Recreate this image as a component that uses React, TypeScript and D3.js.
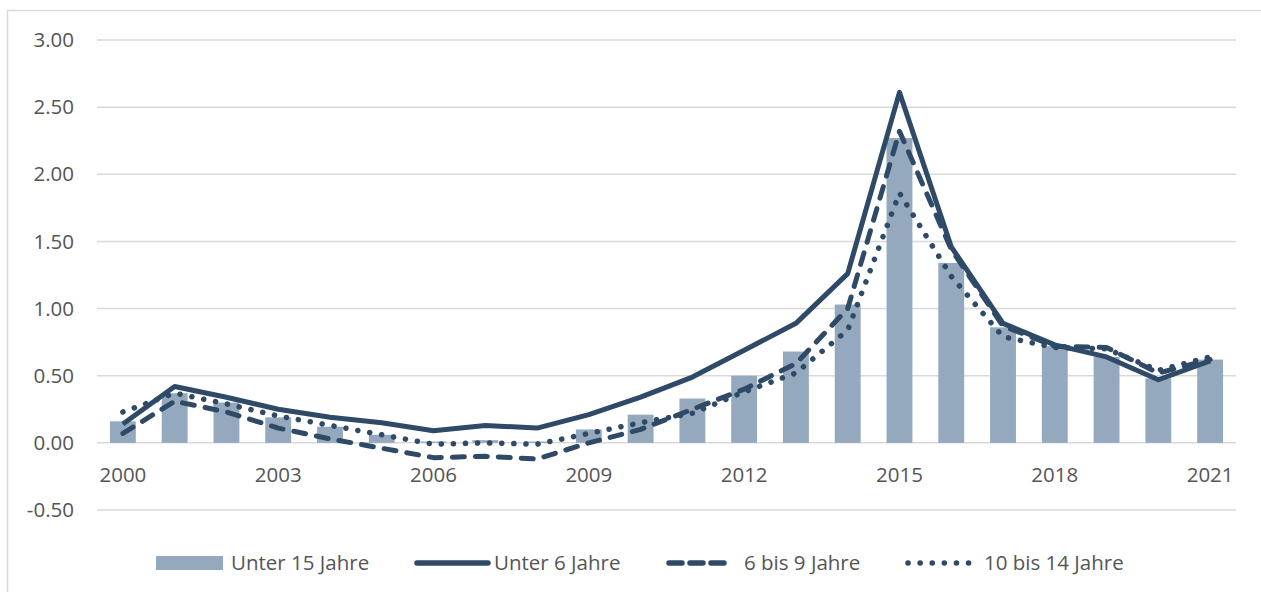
import React, { useRef, useEffect } from 'react'
import * as d3 from 'd3'

const years = ['2000', '2001', '2002', '2003', '2004', '2005', '2006', '2007', '2008', '2009', '2010',
  '2011', '2012', '2013', '2014', '2015', '2016', '2017', '2018', '2019', '2020', '2021']
const under15 = [0.16, 0.37, 0.30, 0.19, 0.12, 0.06, 0.01, 0.02, 0.01, 0.10, 0.21, 0.33, 0.50, 0.68, 1.03, 2.27, 1.34, 0.86, 0.72, 0.64, 0.48, 0.62]
const under6 = [0.14, 0.42, 0.34, 0.25, 0.19, 0.15, 0.09, 0.13, 0.11, 0.21, 0.34, 0.49, 0.69, 0.89, 1.26, 2.61, 1.46, 0.89, 0.73, 0.64, 0.47, 0.61]
const age6to9 = [0.07, 0.31, 0.23, 0.11, 0.03, -0.04, -0.11, -0.10, -0.12, 0.00, 0.10, 0.25, 0.40, 0.59, 1.00, 2.32, 1.44, 0.87, 0.72, 0.71, 0.52, 0.62]
const age10to14 = [0.23, 0.37, 0.29, 0.20, 0.13, 0.06, -0.01, 0.00, -0.01, 0.07, 0.15, 0.22, 0.38, 0.52, 0.84, 1.86, 1.24, 0.79, 0.71, 0.70, 0.54, 0.64]
const yTicks = [-0.5, 0, 0.5, 1, 1.5, 2, 2.5, 3]
const xLabelYears = ['2000', '2003', '2006', '2009', '2012', '2015', '2018', '2021']

const lineSeries = [
  { name: 'Unter 6 Jahre', values: under6, dash: null },
  { name: '6 bis 9 Jahre', values: age6to9, dash: '12,11' },
  { name: '10 bis 14 Jahre', values: age10to14, dash: '0.1,12' },
]

const W = 1261
const H = 592
const LINE = '#2f4a66'
const BAR = '#94a9bd'
const GRID = '#d9d9d9'
const TEXT = '#555555'
const FONT = '"Open Sans", sans-serif'
const FS = 20.5

export default function App() {
  const svgRef = useRef<SVGSVGElement | null>(null)

  useEffect(() => {
    if (!svgRef.current) return
    const svg = d3.select(svgRef.current)
    svg.selectAll('*').remove()

    const left = 97
    const right = 1236
    const x = d3.scaleBand<string>().domain(years).range([left, right]).padding(0)
    const y = d3.scaleLinear().domain([-0.5, 3]).range([510, 40])
    const cx = (d: string) => (x(d) as number) + x.bandwidth() / 2
    const barW = x.bandwidth() * 0.5

    // frame
    svg.append('rect').attr('x', 7.5).attr('y', 10.5).attr('width', W).attr('height', H)
      .attr('fill', '#fff').attr('stroke', GRID).attr('stroke-width', 1.5)

    // grid
    svg.append('g').selectAll('line').data(yTicks).enter().append('line')
      .attr('x1', left).attr('x2', right)
      .attr('y1', d => y(d)).attr('y2', d => y(d))
      .attr('stroke', GRID).attr('stroke-width', 1.5)

    svg.append('g').selectAll('text').data(yTicks).enter().append('text')
      .attr('x', 74).attr('y', d => y(d)).attr('dy', '0.35em')
      .attr('text-anchor', 'end').attr('font-family', FONT).attr('font-size', FS)
      .attr('fill', TEXT).text(d => d.toFixed(2))

    // bars
    svg.append('g').selectAll('rect').data(years).enter().append('rect')
      .attr('x', d => cx(d) - barW / 2)
      .attr('width', barW)
      .attr('y', (d, i) => y(Math.max(0, under15[i])))
      .attr('height', (d, i) => Math.abs(y(under15[i]) - y(0)))
      .attr('fill', BAR)

    // x labels
    svg.append('g').selectAll('text').data(xLabelYears).enter().append('text')
      .attr('x', d => cx(d)).attr('y', 482)
      .attr('text-anchor', 'middle').attr('font-family', FONT).attr('font-size', FS)
      .attr('fill', TEXT).text(d => d)

    // lines
    const line = d3.line<number>().x((d, i) => cx(years[i])).y(d => y(d))
    lineSeries.forEach(s => {
      const p = svg.append('path').attr('d', line(s.values))
        .attr('fill', 'none').attr('stroke', LINE)
        .attr('stroke-width', s.dash === '0.1,12' ? 5.5 : 5)
        .attr('stroke-linejoin', 'round')
        .attr('stroke-linecap', s.dash ? 'round' : 'butt')
      if (s.dash) p.attr('stroke-dasharray', s.dash)
    })

    // legend
    const ly = 563
    const lg = svg.append('g').attr('font-family', FONT).attr('font-size', FS).attr('fill', TEXT)
    lg.append('rect').attr('x', 156).attr('y', 556).attr('width', 67).attr('height', 14).attr('fill', BAR)
    lg.append('text').attr('x', 231).attr('y', ly).attr('dy', '0.35em').text('Unter 15 Jahre')

    const legendItems = [
      { x1: 417, x2: 488, tx: 494 },
      { x1: 669, x2: 728, tx: 744 },
      { x1: 908, x2: 972, tx: 984 },
    ]
    lineSeries.forEach((s, i) => {
      const it = legendItems[i]
      const l = lg.append('line').attr('x1', it.x1).attr('x2', it.x2).attr('y1', ly).attr('y2', ly)
        .attr('stroke', LINE).attr('stroke-width', 5.5)
        .attr('stroke-linecap', 'round')
      if (s.dash === '12,11') l.attr('stroke-dasharray', '13,8')
      else if (s.dash) l.attr('stroke-dasharray', '0.1,12')
      lg.append('text').attr('x', it.tx).attr('y', ly).attr('dy', '0.35em').text(s.name)
    })
  }, [])

  return (
    <div style={{ position: 'absolute', left: 0, top: 0 }}>
      <svg ref={svgRef} width={W} height={H} style={{ display: 'block' }} />
    </div>
  )
}
